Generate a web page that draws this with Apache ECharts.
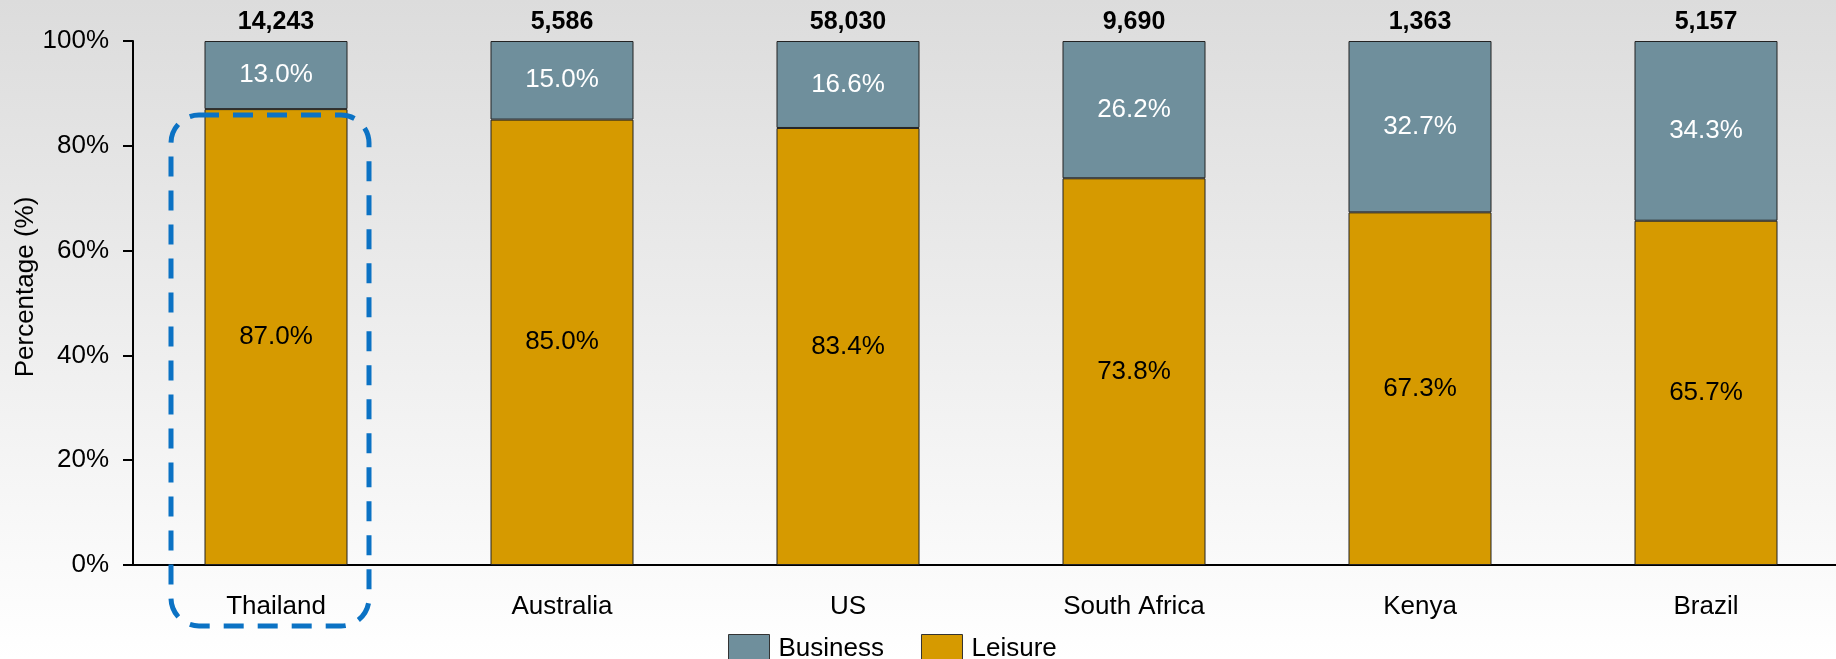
<!DOCTYPE html>
<html>
<head>
<meta charset="utf-8">
<script src="https://cdn.jsdelivr.net/npm/echarts@6/dist/echarts.min.js"></script>
<style>
  html, body { margin: 0; padding: 0; }
  #chart { width: 1836px; height: 659px; }
</style>
</head>
<body>
<div id="chart"></div>
<script>
const countries = ['Thailand', 'Australia', 'US', 'South Africa', 'Kenya', 'Brazil'];
const leisure = [87.0, 85.0, 83.4, 73.8, 67.3, 65.7];
const business = [13.0, 15.0, 16.6, 26.2, 32.7, 34.3];
const totals = ['14,243', '5,586', '58,030', '9,690', '1,363', '5,157'];

const FONT = 'Liberation Sans, Arial, sans-serif';
const chart = echarts.init(document.getElementById('chart'));

const option = {
  animation: false,
  backgroundColor: new echarts.graphic.LinearGradient(0, 0, 0, 1, [
    { offset: 0, color: '#dcdcdc' },
    { offset: 1, color: '#ffffff' }
  ]),
  textStyle: { fontFamily: FONT },
  grid: { left: 133, width: 1716, top: 41, bottom: 94, outerBoundsMode: 'none', containLabel: false },
  legend: {
    data: ['Business', 'Leisure'],
    left: 723,
    top: 629,
    icon: 'rect',
    itemWidth: 41,
    itemHeight: 28,
    itemGap: 37,
    textStyle: { fontSize: 26, color: '#000', fontFamily: FONT, padding: [0, 0, 0, 4] },
    itemStyle: { borderColor: '#333', borderWidth: 1 }
  },
  xAxis: {
    type: 'category',
    data: countries,
    axisLine: { lineStyle: { color: '#000', width: 2 } },
    axisTick: { show: false },
    axisLabel: { fontSize: 26, color: '#000', margin: 29, fontFamily: FONT }
  },
  yAxis: {
    type: 'value',
    min: 0,
    max: 100,
    interval: 20,
    name: 'Percentage (%)',
    nameLocation: 'middle',
    nameGap: 94,
    nameMoveOverlap: false,
    nameTextStyle: { fontSize: 26, color: '#000', fontFamily: FONT, padding: [0, 0, 0, 32] },
    axisLine: { show: true, lineStyle: { color: '#000', width: 2 } },
    axisTick: { show: true, length: 10, lineStyle: { color: '#000', width: 2 } },
    splitLine: { show: false },
    axisLabel: { fontSize: 26, color: '#000', margin: 24, formatter: '{value}%', fontFamily: FONT }
  },
  series: [
    {
      name: 'Leisure',
      type: 'bar',
      stack: 'total',
      barWidth: 143,
      data: leisure,
      itemStyle: { color: '#d69a00', borderColor: '#222', borderWidth: 1 },
      label: {
        show: true,
        position: 'inside',
        fontSize: 26,
        color: '#000',
        fontFamily: FONT,
        formatter: p => p.value.toFixed(1) + '%'
      }
    },
    {
      name: 'Business',
      type: 'bar',
      stack: 'total',
      barWidth: 143,
      data: business,
      itemStyle: { color: '#6f8f9c', borderColor: '#222', borderWidth: 1 },
      label: {
        show: true,
        position: 'inside',
        fontSize: 26,
        color: '#fff',
        fontFamily: FONT,
        formatter: p => p.value.toFixed(1) + '%'
      }
    },
    {
      name: 'Total',
      type: 'bar',
      stack: 'total',
      barWidth: 143,
      data: countries.map(() => 0),
      itemStyle: { color: 'transparent' },
      label: {
        show: true,
        position: 'top',
        distance: 6,
        fontSize: 25,
        fontWeight: 'bold',
        color: '#000',
        fontFamily: FONT,
        formatter: p => totals[p.dataIndex]
      }
    }
  ]
};

chart.setOption(option);

// dashed highlight around the Thailand column
const cx = chart.convertToPixel({ xAxisIndex: 0 }, 0);
const yTop = chart.convertToPixel({ yAxisIndex: 0 }, leisure[0]);
chart.setOption({
  graphic: [{
    type: 'rect',
    shape: { x: cx - 105, y: yTop + 6, width: 198, height: 626 - (yTop + 6), r: 28 },
    style: { fill: 'none', stroke: '#0b72c4', lineWidth: 5, lineDash: [20, 14] },
    z: 100
  }]
});
</script>
</body>
</html>
